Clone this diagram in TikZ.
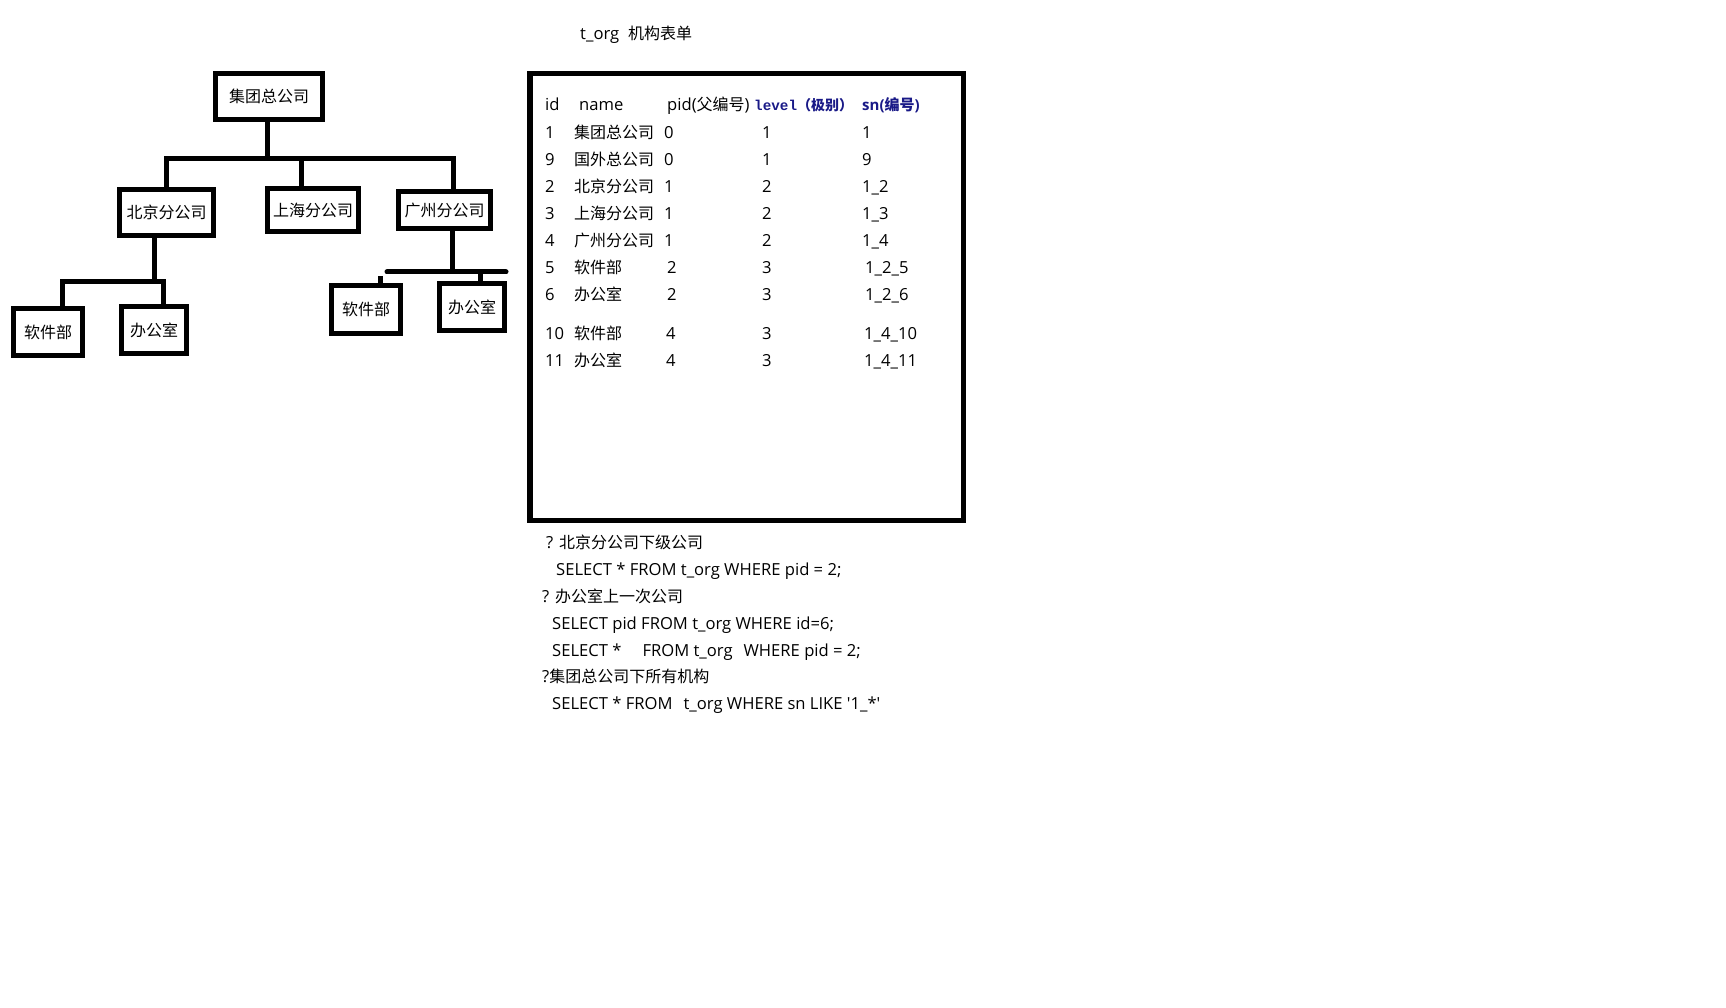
\documentclass[tikz,border=0pt]{standalone}
\usepackage{fontspec}
\newfontfamily\uifont{Open Sans}
\newfontfamily\zhfont{Noto Sans CJK SC}
\newfontfamily\codefont{Liberation Mono}
\newcommand{\zh}[1]{{\zhfont\fontsize{16}{16}\selectfont #1}}
\definecolor{headblue}{RGB}{25,25,135}

\begin{document}
\begin{tikzpicture}[x=1pt, y=-1pt,
    font=\uifont\fontsize{16.6}{16}\selectfont,
    orgbox/.style={draw, line width=5pt, inner sep=0pt, font=\zhfont\fontsize{16}{16}\selectfont},
    link/.style={line width=5pt},
    cell/.style={anchor=base west, inner sep=0pt}]
    \useasboundingbox (0,0) rectangle (1726,1008);

    % org tree
    \node[orgbox, minimum width=107pt, minimum height=46pt] (top) at (269,96.5) {集团总公司};
    \node[orgbox, minimum width=94pt, minimum height=46pt] (bj) at (166.5,212.5) {北京分公司};
    \node[orgbox, minimum width=91pt, minimum height=43pt] (sh) at (313,210) {上海分公司};
    \node[orgbox, minimum width=92pt, minimum height=37pt] (gz) at (444.5,210) {广州分公司};
    \node[orgbox, minimum width=69pt, minimum height=47pt] (bjsoft) at (48,332) {软件部};
    \node[orgbox, minimum width=65pt, minimum height=47pt] (bjoffice) at (154,330) {办公室};
    \node[orgbox, minimum width=69pt, minimum height=48pt] (gzsoft) at (366,309.5) {软件部};
    \node[orgbox, minimum width=65pt, minimum height=47pt] (gzoffice) at (472,307) {办公室};

    \coordinate (topbus) at (267,159);
    \coordinate (shdrop) at (301,159);
    \coordinate (gzdrop) at (453,159);
    \draw[link] (topbus |- top.south) -- (topbus);
    \draw[link] (bj.north) |- (gzdrop) -- (gzdrop |- gz.north);
    \draw[link] (shdrop) -- (shdrop |- sh.north);

    \coordinate (bjbus) at (154,282);
    \coordinate (bjleft) at (62,282);
    \coordinate (bjright) at (163,282);
    \draw[link] (bjbus |- bj.south) -- (bjbus);
    \draw[link] (bjleft |- bjsoft.north) -- (bjleft) -- (bjright) -- (bjright |- bjoffice.north);

    \coordinate (gzbus) at (452,272);
    \coordinate (gzleft) at (387,272);
    \coordinate (gzright) at (506,272);
    \coordinate (gzsoftstub) at (380,276);
    \coordinate (gzofficestub) at (480,272);
    \draw[link] (gzbus |- gz.south) -- (gzbus);
    \draw[link, line cap=round] (gzleft) -- (gzright);
    \draw[link] (gzsoftstub) -- (gzsoftstub |- gzsoft.north);
    \draw[link] (gzofficestub) -- (gzofficestub |- gzoffice.north);

    % table t_org
    \node[cell] (title) at (580,40) {t\_org\hspace{9pt}\zh{机构表单}};
    \draw[line width=5.5pt] (529.75,73.75) rectangle (963.25,520.25);

    \node[cell] (hid) at (545,111) {id};
    \node[cell] (hname) at (579,111) {name};
    \node[cell] (hpid) at (667,111) {pid(\zh{父编号})};
    \node[cell, text=headblue] (hlevel) at (754,111) {{\codefont\bfseries\fontsize{14.3}{16}\selectfont level}{\zhfont\bfseries\fontsize{14}{16}\selectfont （极别）}};
    \node[cell, text=headblue, font=\uifont\bfseries\fontsize{15}{16}\selectfont] (hsn) at (862,111) {sn({\zhfont\bfseries 编号})};

    \foreach \r/\y/\id/\nm/\pid/\px/\lv/\sn/\sx in {
        1/139/1/集团总公司/0/664/1/1/862,
        2/166/9/国外总公司/0/664/1/9/862,
        3/193/2/北京分公司/1/664/2/1\_2/862,
        4/220/3/上海分公司/1/664/2/1\_3/862,
        5/247/4/广州分公司/1/664/2/1\_4/862,
        6/274/5/软件部/2/667/3/1\_2\_5/865,
        7/301/6/办公室/2/667/3/1\_2\_6/865,
        8/339/10/软件部/4/666/3/1\_4\_10/864,
        9/366/11/办公室/4/666/3/1\_4\_11/864}
    {
        \node[cell] (id\r) at (545,\y) {\id};
        \node[cell] (nm\r) at (574,\y) {\zh{\nm}};
        \node[cell] (pid\r) at (\px,\y) {\pid};
        \node[cell] (lv\r) at (762,\y) {\lv};
        \node[cell] (sn\r) at (\sx,\y) {\sn};
    }

    % queries
    \node[cell] (q1) at (546,548) {? \zh{北京分公司下级公司}};
    \node[cell] (q1sql) at (556,575) {SELECT * FROM t\_org WHERE pid = 2;};
    \node[cell] (q2) at (542,602) {? \zh{办公室上一次公司}};
    \node[cell] (q2sql) at (552,629) {SELECT pid FROM t\_org WHERE id=6;};
    \node[cell] (q2sqlb) at (552,656) {SELECT *\hspace{21pt}FROM t\_org\hspace{11pt}WHERE pid = 2;};
    \node[cell] (q3) at (542,682) {?\zh{集团总公司下所有机构}};
    \node[cell] (q3sql) at (552,709) {SELECT * FROM\hspace{11pt}t\_org WHERE sn LIKE '1\_*'};
\end{tikzpicture}
\end{document}
